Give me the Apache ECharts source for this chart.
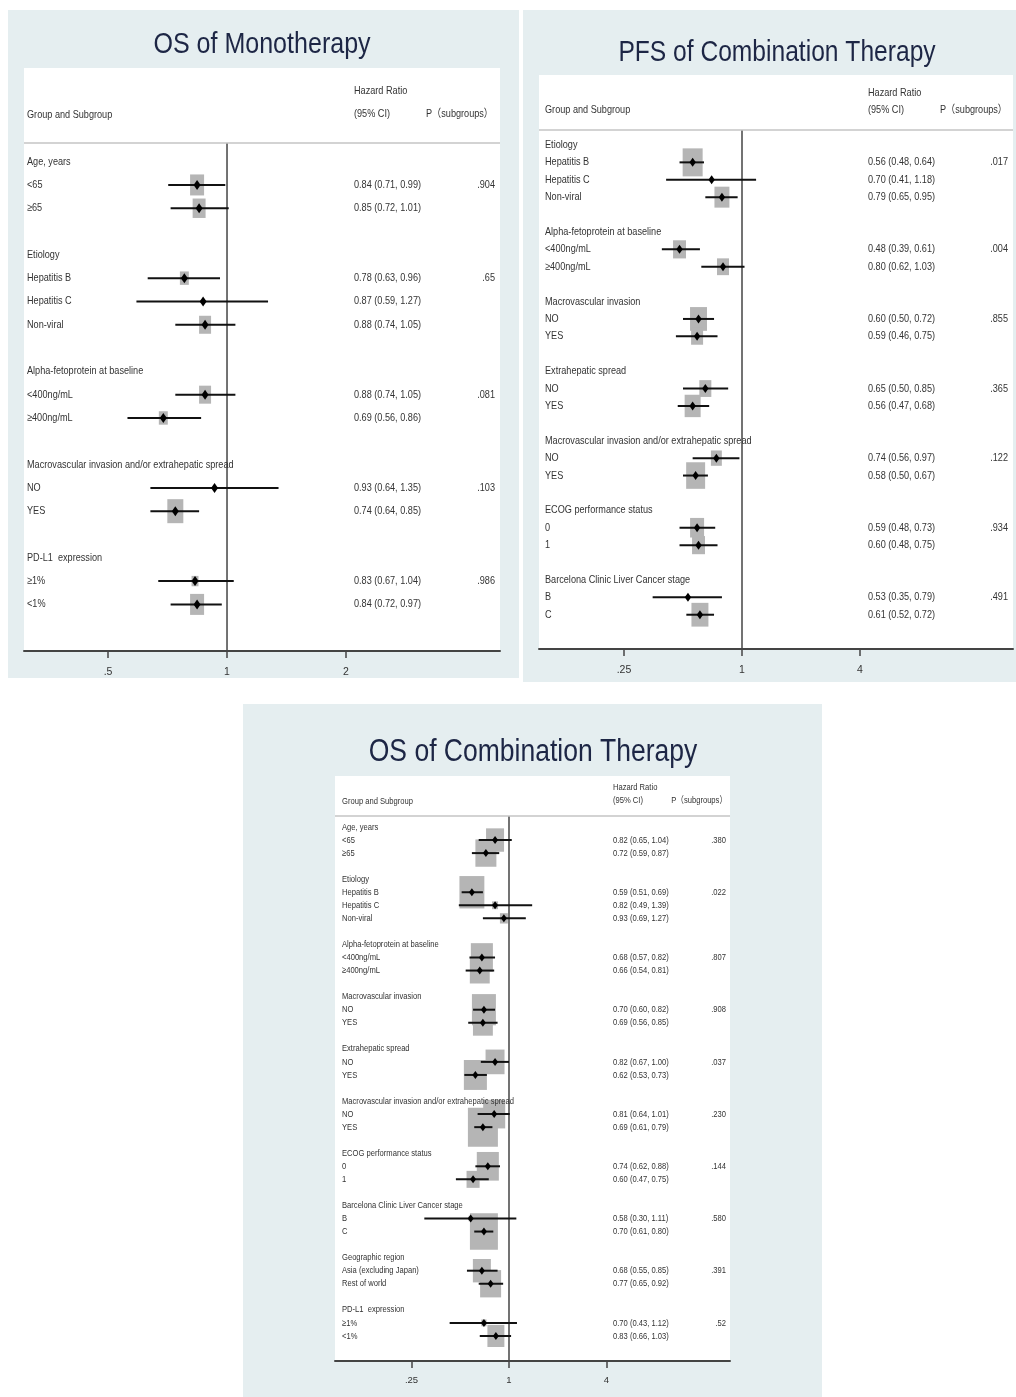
<!DOCTYPE html>
<html>
<head>
<meta charset="utf-8">
<title>Subgroup forest plots</title>
<script src="https://cdn.jsdelivr.net/npm/echarts@6/dist/echarts.min.js"></script>
<style>
  html, body { margin: 0; padding: 0; background: #ffffff; }
  #chart { width: 1016px; height: 1397px; }
</style>
</head>
<body>
<div id="chart"></div>
<script>
// ---------- OS of Monotherapy ----------
const monoLabels = ['Age, years', '<65', '≥65', '',
  'Etiology', 'Hepatitis B', 'Hepatitis C', 'Non-viral', '',
  'Alpha-fetoprotein at baseline', '<400ng/mL', '≥400ng/mL', '',
  'Macrovascular invasion and/or extrahepatic spread', 'NO', 'YES', '',
  'PD-L1  expression', '≥1%', '<1%'];
const monoHR   = [null, 0.84, 0.85, null, null, 0.78, 0.87, 0.88, null, null, 0.88, 0.69, null, null, 0.93, 0.74, null, null, 0.83, 0.84];
const monoLow  = [null, 0.71, 0.72, null, null, 0.63, 0.59, 0.74, null, null, 0.74, 0.56, null, null, 0.64, 0.64, null, null, 0.67, 0.72];
const monoHigh = [null, 0.99, 1.01, null, null, 0.96, 1.27, 1.05, null, null, 1.05, 0.86, null, null, 1.35, 0.85, null, null, 1.04, 0.97];
const monoP    = ['', '.904', '', '', '', '.65', '', '', '', '', '.081', '', '', '', '.103', '', '', '', '.986', ''];
const monoWeight = [null, 49, 42, null, null, 20, 2, 36, null, null, 36, 20, null, null, 2, 64, null, null, 12, 49];
const monoTicks = [0.5, 1, 2];
const monoTickText = ['.5', '1', '2'];

// ---------- PFS of Combination Therapy ----------
const pfsLabels = ['Etiology', 'Hepatitis B', 'Hepatitis C', 'Non-viral', '',
  'Alpha-fetoprotein at baseline', '<400ng/mL', '≥400ng/mL', '',
  'Macrovascular invasion', 'NO', 'YES', '',
  'Extrahepatic spread', 'NO', 'YES', '',
  'Macrovascular invasion and/or extrahepatic spread', 'NO', 'YES', '',
  'ECOG performance status', '0', '1', '',
  'Barcelona Clinic Liver Cancer stage', 'B', 'C'];
const pfsHR   = [null, 0.56, 0.70, 0.79, null, null, 0.48, 0.80, null, null, 0.60, 0.59, null, null, 0.65, 0.56, null, null, 0.74, 0.58, null, null, 0.59, 0.60, null, null, 0.53, 0.61];
const pfsLow  = [null, 0.48, 0.41, 0.65, null, null, 0.39, 0.62, null, null, 0.50, 0.46, null, null, 0.50, 0.47, null, null, 0.56, 0.50, null, null, 0.48, 0.48, null, null, 0.35, 0.52];
const pfsHigh = [null, 0.64, 1.18, 0.95, null, null, 0.61, 1.03, null, null, 0.72, 0.75, null, null, 0.85, 0.68, null, null, 0.97, 0.67, null, null, 0.73, 0.75, null, null, 0.79, 0.72];
const pfsP    = ['', '.017', '', '', '', '', '.004', '', '', '', '.855', '', '', '', '.365', '', '', '', '.122', '', '', '', '.934', '', '', '', '.491', ''];
const pfsWeight = [null, 100, 2, 56, null, null, 42, 36, null, null, 72, 36, null, null, 36, 64, null, null, 30, 90, null, null, 49, 42, null, null, 2, 72];
const pfsTicks = [0.25, 1, 4];
const pfsTickText = ['.25', '1', '4'];

// ---------- OS of Combination Therapy ----------
const osLabels = ['Age, years', '<65', '≥65', '',
  'Etiology', 'Hepatitis B', 'Hepatitis C', 'Non-viral', '',
  'Alpha-fetoprotein at baseline', '<400ng/mL', '≥400ng/mL', '',
  'Macrovascular invasion', 'NO', 'YES', '',
  'Extrahepatic spread', 'NO', 'YES', '',
  'Macrovascular invasion and/or extrahepatic spread', 'NO', 'YES', '',
  'ECOG performance status', '0', '1', '',
  'Barcelona Clinic Liver Cancer stage', 'B', 'C', '',
  'Geographic region', 'Asia (excluding Japan)', 'Rest of world', '',
  'PD-L1  expression', '≥1%', '<1%'];
const osHR   = [null, 0.82, 0.72, null, null, 0.59, 0.82, 0.93, null, null, 0.68, 0.66, null, null, 0.70, 0.69, null, null, 0.82, 0.62, null, null, 0.81, 0.69, null, null, 0.74, 0.60, null, null, 0.58, 0.70, null, null, 0.68, 0.77, null, null, 0.70, 0.83];
const osLow  = [null, 0.65, 0.59, null, null, 0.51, 0.49, 0.69, null, null, 0.57, 0.54, null, null, 0.60, 0.56, null, null, 0.67, 0.53, null, null, 0.64, 0.61, null, null, 0.62, 0.47, null, null, 0.30, 0.61, null, null, 0.55, 0.65, null, null, 0.43, 0.66];
const osHigh = [null, 1.04, 0.87, null, null, 0.69, 1.39, 1.27, null, null, 0.82, 0.81, null, null, 0.82, 0.85, null, null, 1.00, 0.73, null, null, 1.01, 0.79, null, null, 0.88, 0.75, null, null, 1.11, 0.80, null, null, 0.85, 0.92, null, null, 1.12, 1.03];
const osP    = ['', '.380', '', '', '', '.022', '', '', '', '', '.807', '', '', '', '.908', '', '', '', '.037', '', '', '', '.230', '', '', '', '.144', '', '', '', '.580', '', '', '', '.391', '', '', '', '.52', ''];
const osWeight = [null, 36, 49, null, null, 69, 4, 7, null, null, 54, 44, null, null, 64, 44, null, null, 40, 59, null, null, 54, 100, null, null, 54, 19, null, null, 2, 87, null, null, 36, 49, null, null, 3, 32];
const osTicks = [0.25, 1, 4];
const osTickText = ['.25', '1', '4'];

// ---------- styling ----------
const FONT = "'Liberation Sans', Arial, 'Noto Sans CJK SC', sans-serif";
const TEXT = '#333333';
const FRAME = '#e5eef0';

// layout for each panel: frame, white sheet, plot grid, columns, fonts
const panels = [
  {
    title: 'OS of Monotherapy', titleX: 262, titleY: 45, titleSize: 30, titleScale: 0.835,
    labels: monoLabels, hr: monoHR, lo: monoLow, hi: monoHigh, p: monoP, weight: monoWeight,
    ticks: monoTicks, tickText: monoTickText,
    frame: [8, 10, 511, 668], sheet: [24, 68, 476, 583],
    grid: { left: 24, top: 143, width: 476, height: 508 },
    rowRange: [-0.8, 21], logRange: [-1.706, 2.294],
    nameX: 27, hrX: 354, pRight: 495,
    head: { hrTitleY: 91, ciY: 114, groupY: 115, pRight: 493 },
    fontSize: 11, textScale: 0.83, tickSize: 10.5, tickMargin: 16,
    boxScale: 2, aspect: 1.5, dia: [3.5, 5], ciWidth: 2
  },
  {
    title: 'PFS of Combination Therapy', titleX: 777, titleY: 53, titleSize: 30, titleScale: 0.82,
    labels: pfsLabels, hr: pfsHR, lo: pfsLow, hi: pfsHigh, p: pfsP, weight: pfsWeight,
    ticks: pfsTicks, tickText: pfsTickText,
    frame: [523, 10, 493, 672], sheet: [539, 75, 474, 574],
    grid: { left: 539, top: 130, width: 474, height: 519 },
    rowRange: [-0.86, 28.97], logRange: [-3.4407, 4.5932],
    nameX: 545, hrX: 868, pRight: 1008,
    head: { hrTitleY: 93, ciY: 110, groupY: 110, pRight: 1007 },
    fontSize: 11, textScale: 0.83, tickSize: 10.5, tickMargin: 16,
    boxScale: 2, aspect: 1.4, dia: [3.2, 4.5], ciWidth: 2
  },
  {
    title: 'OS of Combination Therapy', titleX: 533, titleY: 752, titleSize: 31, titleScale: 0.855,
    labels: osLabels, hr: osHR, lo: osLow, hi: osHigh, p: osP, weight: osWeight,
    ticks: osTicks, tickText: osTickText,
    frame: [243, 704, 579, 693], sheet: [335, 776, 395, 585],
    grid: { left: 335, top: 816, width: 395, height: 545 },
    rowRange: [-0.843, 40.92], logRange: [-3.5692, 4.5333],
    nameX: 342, hrX: 613, pRight: 726,
    head: { hrTitleY: 787, ciY: 800, groupY: 801, pRight: 727 },
    fontSize: 9.5, textScale: 0.8, tickSize: 9.5, tickMargin: 15,
    boxScale: 3, aspect: 1.3, dia: [3, 4], ciWidth: 2
  }
];

const fmt = v => v.toFixed(2);

// a narrow-looking text element: regular face squeezed horizontally about its anchor
function label(x, y, text, size, scale, align, extra) {
  return Object.assign({
    type: 'text', x: x, y: y, scaleX: scale,
    style: { text: text, fill: TEXT, font: `${size}px ${FONT}`, textAlign: align, textVerticalAlign: 'middle' }
  }, extra || {});
}

const chart = echarts.init(document.getElementById('chart'), null, { renderer: 'canvas' });

const grids = [], xAxes = [], yAxes = [], series = [], graphics = [];

panels.forEach((pn, k) => {
  // backdrop, white sheet, title, column headers, header rule
  graphics.push({ type: 'rect', z: -20, shape: { x: pn.frame[0], y: pn.frame[1], width: pn.frame[2], height: pn.frame[3] }, style: { fill: FRAME } });
  graphics.push({ type: 'rect', z: -19, shape: { x: pn.sheet[0], y: pn.sheet[1], width: pn.sheet[2], height: pn.sheet[3] }, style: { fill: '#ffffff' } });
  const t = label(pn.titleX, pn.titleY, pn.title, pn.titleSize, pn.titleScale, 'center', { z: 5 });
  t.style.fill = '#1d2645';
  graphics.push(t);
  graphics.push(label(pn.nameX, pn.head.groupY, 'Group and Subgroup', pn.fontSize, pn.textScale, 'left', { z: 5 }));
  graphics.push(label(pn.hrX, pn.head.hrTitleY, 'Hazard Ratio', pn.fontSize, pn.textScale, 'left', { z: 5 }));
  graphics.push(label(pn.hrX, pn.head.ciY, '(95% CI)', pn.fontSize, pn.textScale, 'left', { z: 5 }));
  graphics.push(label(pn.head.pRight, pn.head.ciY, 'P（subgroups）', pn.fontSize, pn.textScale, 'right', { z: 5 }));
  graphics.push({ type: 'line', z: 5, shape: { x1: pn.grid.left, y1: pn.grid.top, x2: pn.grid.left + pn.grid.width, y2: pn.grid.top }, style: { stroke: '#c4c4c4', lineWidth: 1.5 } });

  grids.push(Object.assign({ containLabel: false }, pn.grid));

  const tickMap = {};
  pn.ticks.forEach((tv, i) => { tickMap[tv] = pn.tickText[i]; });
  xAxes.push({
    gridIndex: k, type: 'log', logBase: 2, position: 'bottom',
    min: Math.pow(2, pn.logRange[0]), max: Math.pow(2, pn.logRange[1]),
    z: 10,
    axisLine: { show: true, onZero: false, lineStyle: { color: '#444444', width: 2 } },
    axisTick: { show: true, customValues: pn.ticks, length: 7, lineStyle: { color: '#444444', width: 1.5 } },
    axisLabel: { customValues: pn.ticks, formatter: v => tickMap[v] !== undefined ? tickMap[v] : String(v),
      margin: pn.tickMargin, fontSize: pn.tickSize, color: TEXT, fontFamily: FONT },
    splitLine: { show: false }, minorTick: { show: false }
  });
  yAxes.push({ gridIndex: k, type: 'value', inverse: true, min: pn.rowRange[0], max: pn.rowRange[1], show: false });

  const est = [];
  pn.hr.forEach((v, i) => { if (v !== null) est.push([v, i, pn.lo[i], pn.hi[i], pn.weight[i]]); });

  // weight squares
  series.push({
    type: 'custom', xAxisIndex: k, yAxisIndex: k, z: 2, silent: true, data: est,
    renderItem: (params, api) => {
      const c = api.coord([api.value(0), api.value(1)]);
      const side = pn.boxScale * Math.sqrt(api.value(4));
      const h = side * pn.aspect;
      return { type: 'rect', shape: { x: c[0] - side / 2, y: c[1] - h / 2, width: side, height: h }, style: { fill: '#b5b5b5' } };
    }
  });

  // reference line at HR = 1
  series.push({
    type: 'line', xAxisIndex: k, yAxisIndex: k, z: 3, silent: true, symbol: 'none',
    data: [[1, pn.rowRange[0]], [1, pn.rowRange[1]]],
    lineStyle: { color: '#444444', width: 1.5 }
  });

  // confidence intervals and point estimates
  series.push({
    type: 'custom', xAxisIndex: k, yAxisIndex: k, z: 4, silent: true, data: est,
    renderItem: (params, api) => {
      const row = api.value(1);
      const c = api.coord([api.value(0), row]);
      const l = api.coord([api.value(2), row]);
      const r = api.coord([api.value(3), row]);
      const dw = pn.dia[0], dh = pn.dia[1];
      return {
        type: 'group', children: [
          { type: 'line', shape: { x1: l[0], y1: l[1], x2: r[0], y2: r[1] }, style: { stroke: '#111111', lineWidth: pn.ciWidth } },
          { type: 'polygon', shape: { points: [[c[0], c[1] - dh], [c[0] + dw, c[1]], [c[0], c[1] + dh], [c[0] - dw, c[1]]] }, style: { fill: '#000000' } }
        ]
      };
    }
  });

  // text columns: subgroup, hazard ratio with CI, interaction p
  const rows = [];
  pn.labels.forEach((lab, i) => { if (lab !== '') rows.push([1, i]); });
  series.push({
    type: 'custom', xAxisIndex: k, yAxisIndex: k, z: 5, silent: true, clip: false, data: rows,
    renderItem: (params, api) => {
      const i = api.value(1);
      const y = api.coord([1, i])[1];
      const kids = [label(pn.nameX, y, pn.labels[i], pn.fontSize, pn.textScale, 'left')];
      if (pn.hr[i] !== null) {
        kids.push(label(pn.hrX, y, `${fmt(pn.hr[i])} (${fmt(pn.lo[i])}, ${fmt(pn.hi[i])})`, pn.fontSize, pn.textScale, 'left'));
      }
      if (pn.p[i]) {
        kids.push(label(pn.pRight, y, pn.p[i], pn.fontSize, pn.textScale, 'right'));
      }
      return { type: 'group', children: kids };
    }
  });
});

chart.setOption({
  animation: false,
  backgroundColor: '#ffffff',
  graphic: { elements: graphics },
  grid: grids,
  xAxis: xAxes,
  yAxis: yAxes,
  series: series
});
</script>
</body>
</html>
